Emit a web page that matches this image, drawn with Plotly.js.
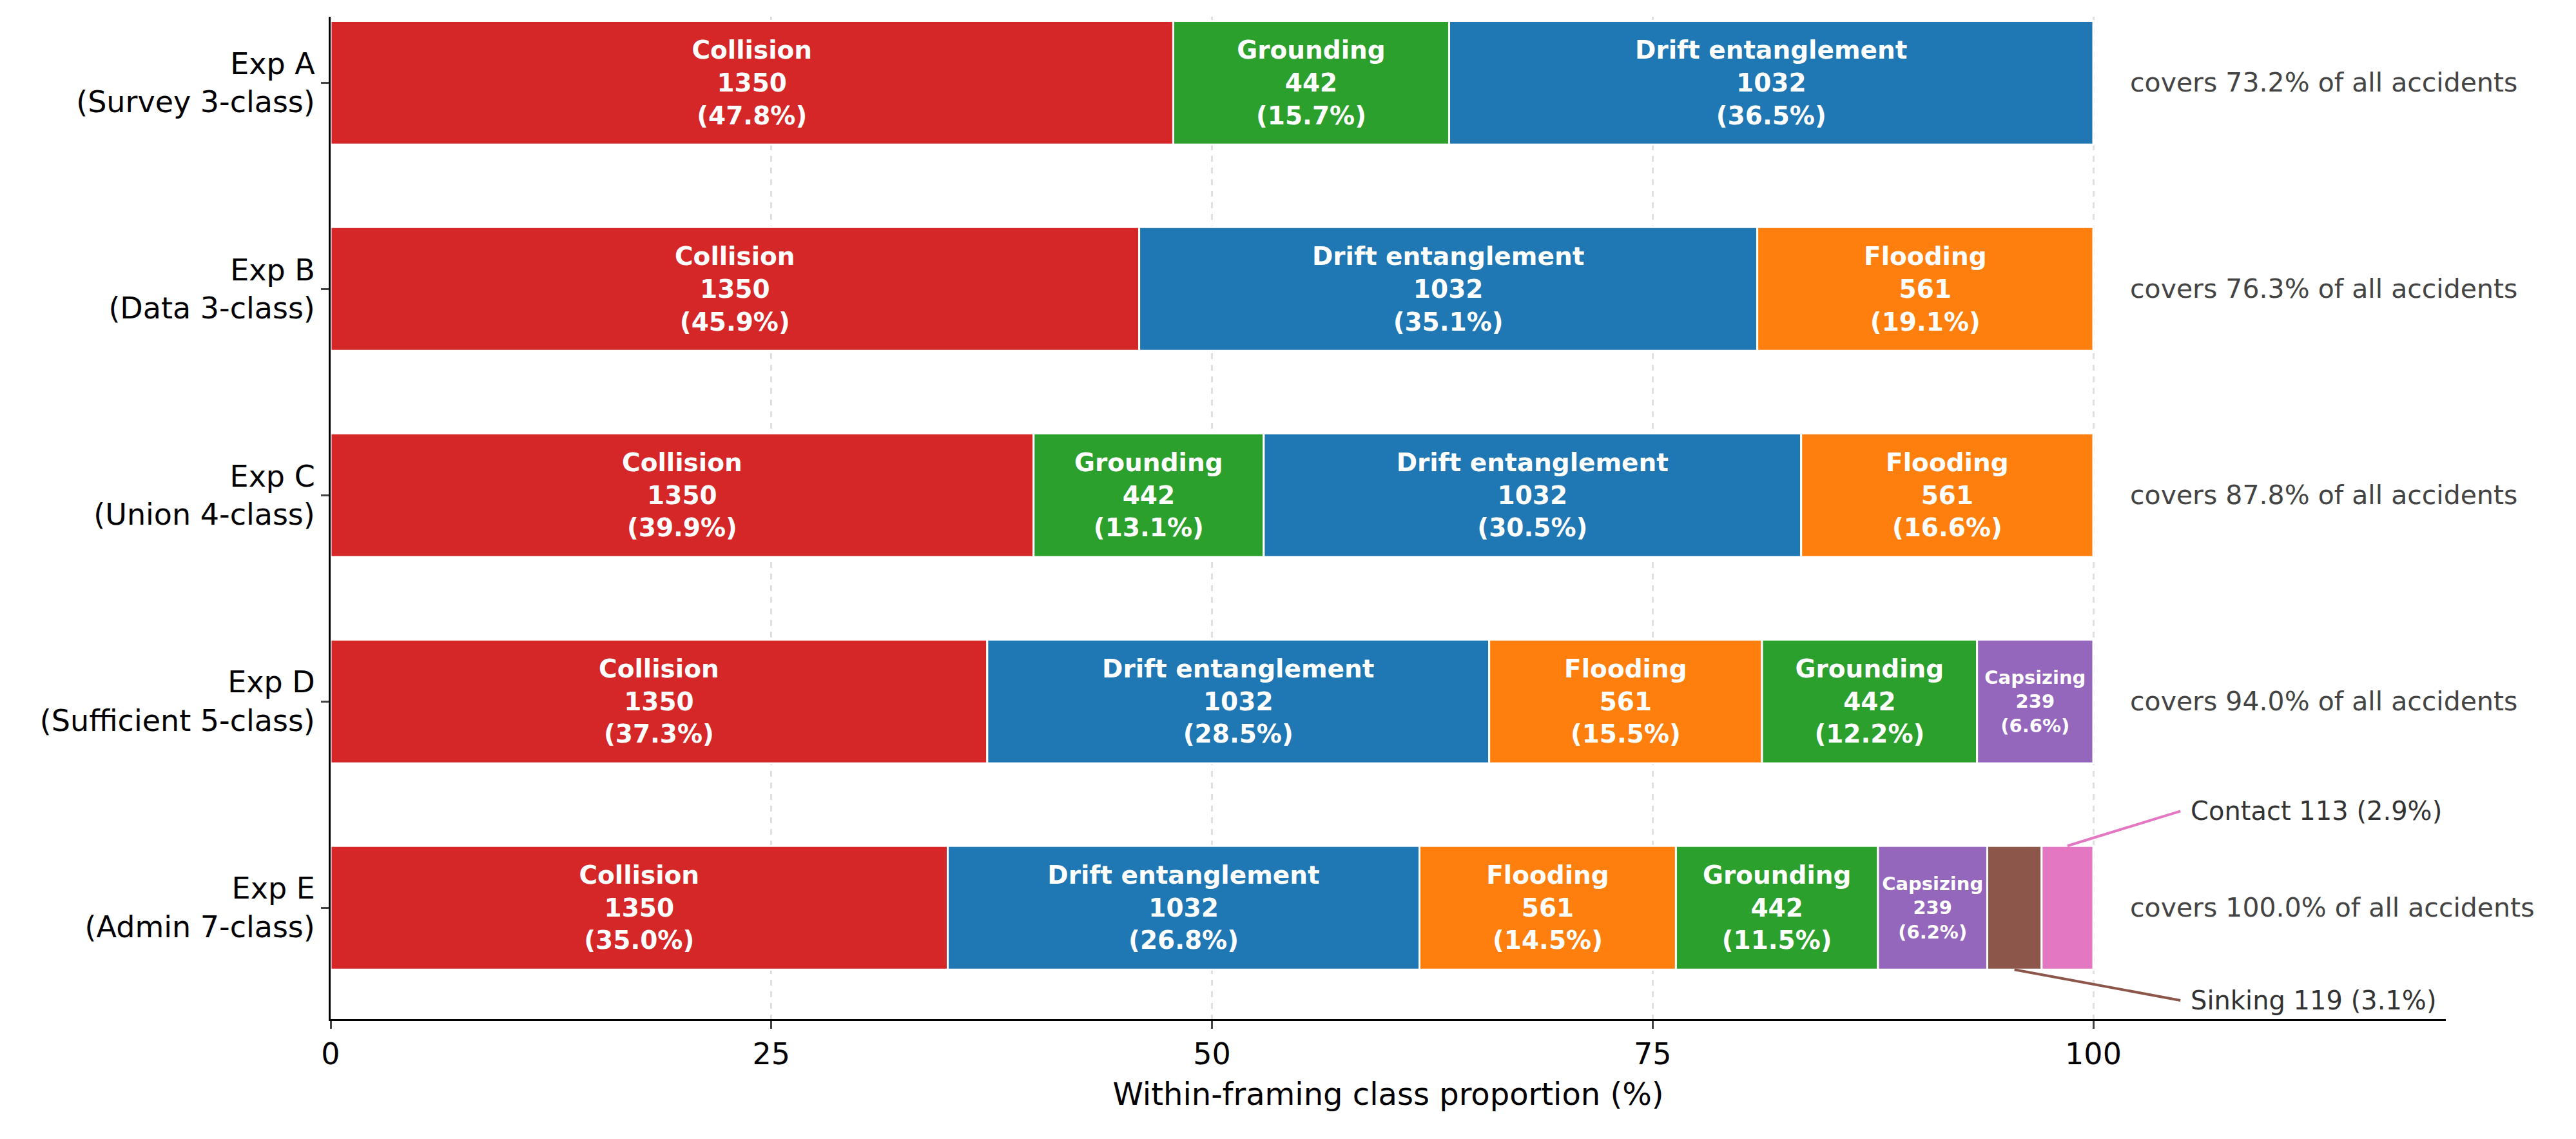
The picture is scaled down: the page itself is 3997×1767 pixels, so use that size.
<!DOCTYPE html>
<html><head><meta charset="utf-8">
<script src="https://cdn.plot.ly/plotly-3.0.1.min.js"></script>
<style>body{margin:0}#chart{width:3997px;height:1767px}</style>
</head><body><div id="chart"></div>
<script>
var rows = ["Exp A<br>(Survey 3-class)", "Exp B<br>(Data 3-class)", "Exp C<br>(Union 4-class)",
            "Exp D<br>(Sufficient 5-class)", "Exp E<br>(Admin 7-class)"];
var rowClasses = [
    ["Collision", "Grounding", "Drift entanglement"],
    ["Collision", "Drift entanglement", "Flooding"],
    ["Collision", "Grounding", "Drift entanglement", "Flooding"],
    ["Collision", "Drift entanglement", "Flooding", "Grounding", "Capsizing"],
    ["Collision", "Drift entanglement", "Flooding", "Grounding", "Capsizing", "Sinking", "Contact"]
];
var counts = {"Collision": 1350, "Grounding": 442, "Drift entanglement": 1032, "Flooding": 561,
              "Capsizing": 239, "Sinking": 119, "Contact": 113};
var colors = {"Collision": "#d62728", "Grounding": "#2ca02c", "Drift entanglement": "#1f77b4",
              "Flooding": "#ff7f0e", "Capsizing": "#9467bd", "Sinking": "#8c564b", "Contact": "#e377c2"};
var allTotal = 3856;

var data = [];
var annotations = [];
rows.forEach(function (row, i) {
    var cls = rowClasses[i];
    var total = cls.reduce(function (s, c) { return s + counts[c]; }, 0);
    var base = 0;
    cls.forEach(function (c) {
        var pct = counts[c] / total * 100;
        var small = c === "Capsizing";
        var txt = (c === "Sinking" || c === "Contact") ? "" :
            "<b>" + c + "<br>" + counts[c] + "<br>(" + pct.toFixed(1) + "%)</b>";
        data.push({
            type: "bar", orientation: "h",
            y: [i], x: [pct], base: [base],
            width: 0.6,
            marker: {color: colors[c], line: {color: "white", width: 3}},
            text: [txt], textposition: "inside", insidetextanchor: "middle",
            textfont: {color: "white", size: small ? 29 : 39, family: "DejaVu Sans"},
            constraintext: "none",
            hoverinfo: "skip", showlegend: false
        });
        if (c === "Contact" || c === "Sinking") {
            var up = c === "Contact";
            var ty = up ? i - 0.47 : i + 0.45;
            annotations.push({
                x: base + pct / 2, y: up ? i - 0.3 : i + 0.3, xref: "x", yref: "y",
                ax: 105, ay: ty, axref: "x", ayref: "y",
                text: "", showarrow: true, arrowhead: 0, arrowwidth: 4, arrowcolor: colors[c]
            });
            annotations.push({
                x: 105, y: ty, xref: "x", yref: "y",
                text: c + " " + counts[c] + " (" + pct.toFixed(1) + "%)",
                showarrow: false, xanchor: "left", xshift: 12,
                font: {size: 40, color: "#333333", family: "DejaVu Sans"}
            });
        }
        base += pct;
    });
    annotations.push({
        x: 102, y: i, xref: "x", yref: "y", xanchor: "left", showarrow: false,
        text: "covers " + (total / allTotal * 100).toFixed(1) + "% of all accidents",
        font: {size: 41, color: "#444444", family: "DejaVu Sans"}
    });
});

var layout = {
    barmode: "overlay",
    margin: {l: 513, r: 202, t: 26, b: 186, pad: 0},
    paper_bgcolor: "white", plot_bgcolor: "white",
    font: {family: "DejaVu Sans", size: 46, color: "black"},
    xaxis: {
        range: [0, 120], tickvals: [0, 25, 50, 75, 100],
        showgrid: true, gridcolor: "#e0e0e0", griddash: "dash", gridwidth: 3,
        zeroline: false, showline: true, linecolor: "black", linewidth: 3,
        ticks: "outside", ticklen: 12, tickwidth: 3,
        title: {text: "Within-framing class proportion (%)", font: {size: 48}, standoff: 20}
    },
    yaxis: {
        autorange: false, range: [4.54, -0.32],
        tickvals: [0, 1, 2, 3, 4], ticktext: rows,
        showline: true, linecolor: "black", linewidth: 3, zeroline: false,
        ticks: "outside", ticklen: 12, tickwidth: 3, showgrid: false
    },
    annotations: annotations
};

Plotly.newPlot("chart", data, layout, {staticPlot: true});
</script></body></html>
